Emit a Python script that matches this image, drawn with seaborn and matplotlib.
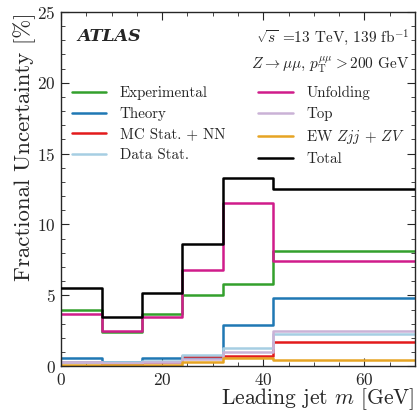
import numpy as np
import pandas as pd
import matplotlib
matplotlib.use('Agg')
import matplotlib.pyplot as plt
import seaborn as sns

# bin edges of leading jet mass [GeV]
edges = [0, 8, 16, 24, 32, 42, 70]

experimental = [4.0, 2.4, 3.7, 5.0, 5.8, 8.1]
theory = [0.55, 0.3, 0.6, 0.6, 2.9, 4.8]
mc_stat = [0.3, 0.15, 0.3, 0.7, 0.75, 1.7]
data_stat = [0.3, 0.3, 0.4, 0.8, 1.3, 2.3]
unfolding = [3.7, 2.5, 3.5, 6.8, 11.5, 7.4]
top = [0.3, 0.2, 0.3, 0.5, 1.0, 2.5]
ew = [0.1, 0.05, 0.1, 0.3, 0.55, 0.45]
total = [5.5, 3.5, 5.2, 8.6, 13.3, 12.5]

labels = ['Experimental', 'Theory', 'MC Stat. + NN', 'Data Stat.',
          'Unfolding', 'Top', r'EW $Zjj$ + $ZV$', 'Total']
series = [experimental, theory, mc_stat, data_stat, unfolding, top, ew, total]
colors = ['#33a02c', '#1f78b4', '#e31a1c', '#a6cee3',
          '#d01c8b', '#cab2d6', '#e6a423', '#000000']

rows = []
for lab, vals in zip(labels, series):
    for x, y in zip(edges, vals + [vals[-1]]):
        rows.append({'x': x, 'y': y, 'source': lab})
df = pd.DataFrame(rows)

sns.set_style('ticks')
plt.rcParams['font.family'] = ['cmr10', 'DejaVu Serif']
plt.rcParams['mathtext.fontset'] = 'cm'
plt.rcParams['axes.formatter.use_mathtext'] = True

fig = plt.figure(figsize=(4.19, 4.11), dpi=100)
ax = fig.add_axes([0.146, 0.109, 0.844, 0.862])

for i in range(len(labels)):
    sub = df[df['source'] == labels[i]]
    sns.lineplot(data=sub, x='x', y='y', drawstyle='steps-post', color=colors[i],
                 linewidth=1.8, ax=ax, label=labels[i], estimator=None, sort=False,
                 zorder=3 if i == 7 else 2)

ax.set_xlim(0, 70)
ax.set_ylim(0, 25)
ax.set_xticks([0, 20, 40, 60])
ax.set_yticks([0, 5, 10, 15, 20, 25])
ax.set_xticks(np.arange(0, 71, 5), minor=True)
ax.set_yticks(np.arange(0, 25.1, 1), minor=True)
ax.tick_params(which='both', direction='in', top=True, right=True, labelsize=12.5)
ax.tick_params(which='major', length=6, width=0.8, pad=4)
ax.tick_params(which='minor', length=3, width=0.6)
for s in ax.spines.values():
    s.set_linewidth(1.0)

ax.set_xlabel('Leading jet $m$ [GeV]', fontsize=15.5, loc='right', labelpad=-1)
ax.set_ylabel('Fractional Uncertainty [%]', fontsize=16.5, loc='top', labelpad=1)

ax.text(0.045, 0.955, 'ATLAS', transform=ax.transAxes, fontsize=12.5,
        fontweight='bold', fontstyle='italic', va='top', ha='left',
        family='DejaVu Serif')
ax.text(0.985, 0.955, r'$\sqrt{s}$ =13 TeV, 139 fb$^{-1}$', transform=ax.transAxes,
        fontsize=11, va='top', ha='right')
ax.text(0.985, 0.88, r'$Z \rightarrow \mu\mu$, $p_{\mathrm{T}}^{\mu\mu} > 200$ GeV',
        transform=ax.transAxes, fontsize=11, va='top', ha='right')

ax.legend(ncol=2, frameon=False, loc='upper left', bbox_to_anchor=(0.0, 0.82),
          fontsize=10.8, handlelength=2.3, handletextpad=0.9, columnspacing=2.2,
          labelspacing=0.45, borderaxespad=0.3)

fig.savefig('out.png', dpi=100)
